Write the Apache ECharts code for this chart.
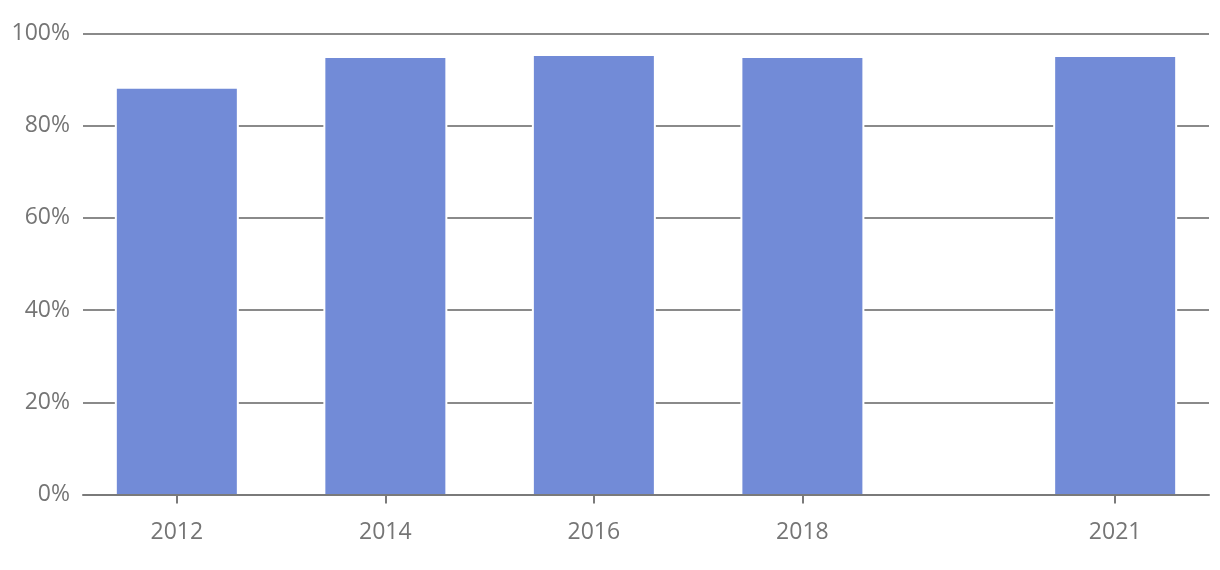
<!DOCTYPE html>
<html>
<head>
<meta charset="utf-8">
<script src="https://cdn.jsdelivr.net/npm/echarts@6/dist/echarts.min.js"></script>
<style>
html,body{margin:0;padding:0;background:#fff;}
#chart{width:1220px;height:570px;}
</style>
</head>
<body>
<div id="chart"></div>
<script>
const years = [2012, 2014, 2016, 2018, 2021];
const shares = [88.0, 94.7, 95.1, 94.7, 94.9];
const yTicks = [0, 20, 40, 60, 80, 100];

const BAR_W = 120;
const GAP = 2;

const chart = echarts.init(document.getElementById('chart'));
chart.setOption({
  animation: false,
  grid: {left: 83, right: 11, top: 33.5, bottom: 75.5, containLabel: false},
  xAxis: {
    type: 'value',
    min: 2011.1,
    max: 2021.9,
    z: 10,
    splitLine: {show: false},
    axisLine: {show: true, lineStyle: {color: '#7a7a7a', width: 2}},
    axisTick: {show: true, customValues: years, length: 9, lineStyle: {color: '#7a7a7a', width: 2}},
    axisLabel: {
      customValues: years,
      formatter: v => String(v),
      margin: 26,
      color: '#757575',
      fontFamily: 'Open Sans',
      fontSize: 23
    }
  },
  yAxis: {
    type: 'value',
    min: 0, max: 100, interval: 20,
    z: 0,
    axisLine: {show: false},
    axisTick: {show: false},
    splitLine: {show: true, lineStyle: {color: '#8a8a8a', width: 2}},
    axisLabel: {
      formatter: v => v + '%',
      margin: 13,
      color: '#757575',
      fontFamily: 'Open Sans',
      fontSize: 23
    }
  },
  series: [{
    type: 'custom',
    data: years.map((y, i) => [y, shares[i]]),
    encode: {x: 0, y: 1},
    renderItem: function (params, api) {
      const top = api.coord([api.value(0), api.value(1)]);
      const base = api.coord([api.value(0), 0]);
      const h = base[1] - top[1];
      return {
        type: 'group',
        children: [
          {type: 'rect', shape: {x: top[0] - BAR_W / 2 - GAP, y: top[1] - GAP, width: BAR_W + 2 * GAP, height: h + GAP},
           style: {fill: '#ffffff'}},
          {type: 'rect', shape: {x: top[0] - BAR_W / 2, y: top[1], width: BAR_W, height: h},
           style: {fill: '#728bd7'}}
        ]
      };
    }
  }]
});
</script>
</body>
</html>
